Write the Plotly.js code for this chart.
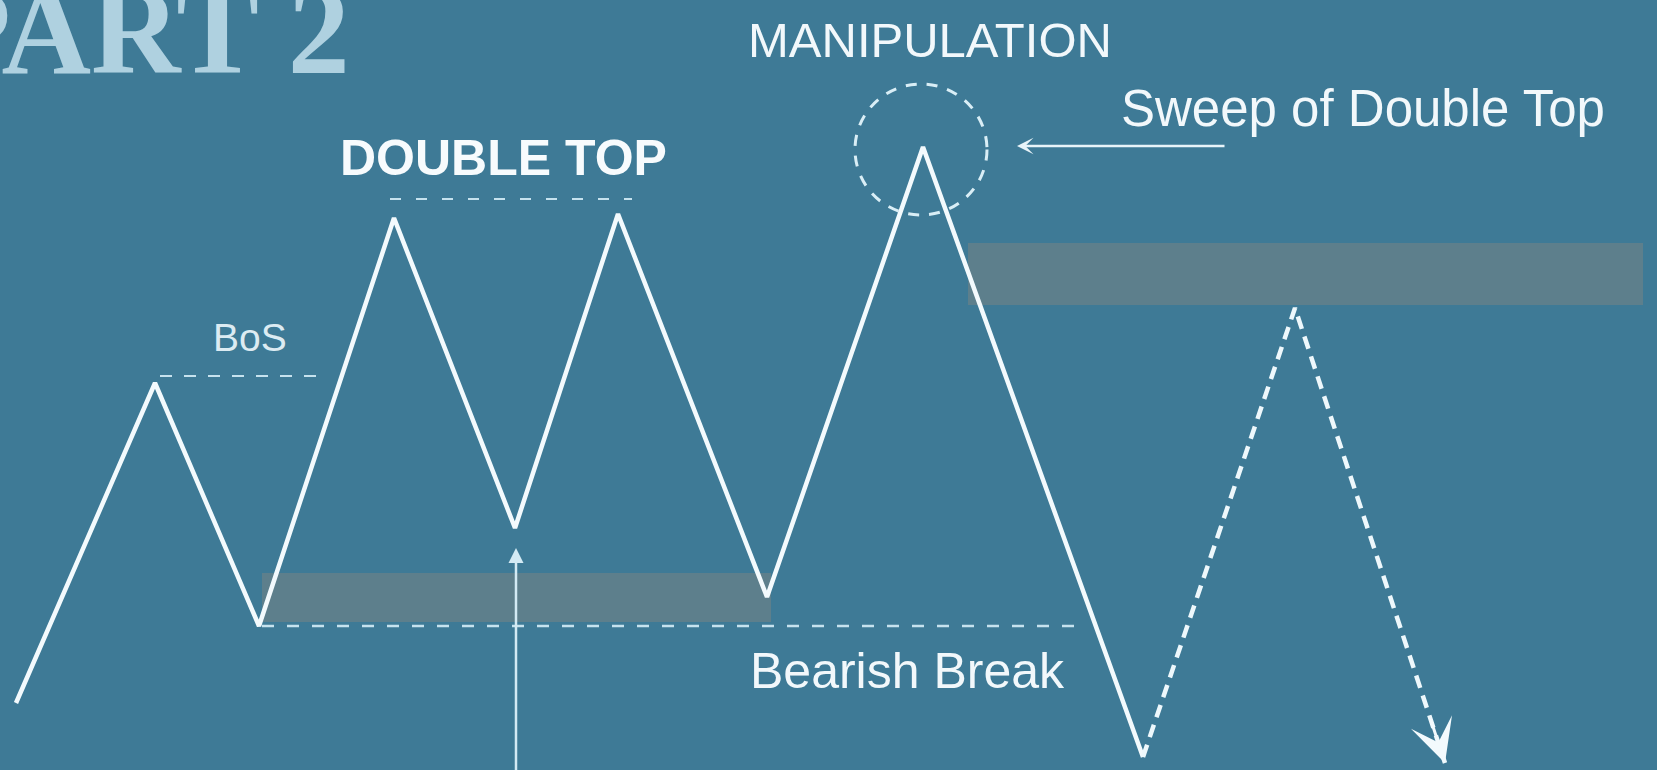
<!DOCTYPE html>
<html>
<head>
<meta charset="utf-8">
<script src="https://cdn.plot.ly/plotly-3.0.1.min.js"></script>
<style>
html,body{margin:0;padding:0;background:#3e7a96;overflow:hidden}
#chart{width:1657px;height:770px}
</style>
</head>
<body>
<div id="chart"></div>
<script>
// ---- price path (x = time position, y = price level) ----
const swingX = [16, 155, 259, 394, 515, 618, 767, 923, 1143];
const swingY = [67, 387, 144, 552, 242, 556, 173, 623, 13];

// ---- projected move after the sweep ----
const projX = [1143, 1295, 1445];
const projY = [13, 462, 7];

// ---- reference levels ----
const bosLevel = [394, 394];
const bosSpan = [160, 317];
const doubleTopLevel = [571, 571];
const doubleTopSpan = [390, 632];
const breakLevel = [144, 144];
const breakSpan = [262, 1078];

// ---- zones ----
const demandZoneX = [262, 771];
const demandZoneY = [148, 197];
const supplyZoneX = [968, 1643];
const supplyZoneY = [465, 527];

// ---- sweep circle (around the manipulation high) ----
const sweepCircleX = [855, 987];
const sweepCircleY = [555, 686];

// ---- labels ----
const labelTexts = ["PART 2", "MANIPULATION", "Sweep of Double Top", "DOUBLE TOP", "BoS", "Bearish Break"];

const BG = '#3e7a96';
const LINE = '#f3fafd';
const DASHC = '#c6e2ee';

const traces = [
  {
    x: swingX, y: swingY, type: 'scatter', mode: 'lines',
    line: {color: LINE, width: 4.5}, hoverinfo: 'skip', showlegend: false
  },
  {
    x: projX, y: projY, type: 'scatter', mode: 'lines',
    line: {color: '#eef8fc', width: 4.5, dash: '13px,8px'}, hoverinfo: 'skip', showlegend: false
  }
];

const shapes = [
  {type: 'rect', xref: 'x', yref: 'y', x0: demandZoneX[0], x1: demandZoneX[1], y0: demandZoneY[0], y1: demandZoneY[1],
   fillcolor: '#5d7f8c', line: {width: 0}, layer: 'below'},
  {type: 'rect', xref: 'x', yref: 'y', x0: supplyZoneX[0], x1: supplyZoneX[1], y0: supplyZoneY[0], y1: supplyZoneY[1],
   fillcolor: '#5d7f8c', line: {width: 0}, layer: 'below'},
  {type: 'line', xref: 'x', yref: 'y', x0: bosSpan[0], x1: bosSpan[1], y0: bosLevel[0], y1: bosLevel[1],
   line: {color: DASHC, width: 2, dash: '12px,12px'}, layer: 'below'},
  {type: 'line', xref: 'x', yref: 'y', x0: doubleTopSpan[0], x1: doubleTopSpan[1], y0: doubleTopLevel[0], y1: doubleTopLevel[1],
   line: {color: DASHC, width: 2, dash: '11px,15px'}, layer: 'below'},
  {type: 'line', xref: 'x', yref: 'y', x0: breakSpan[0], x1: breakSpan[1], y0: breakLevel[0], y1: breakLevel[1],
   line: {color: DASHC, width: 2.5, dash: '12px,13px'}, layer: 'below'},
  {type: 'circle', xref: 'x', yref: 'y', x0: sweepCircleX[0], x1: sweepCircleX[1], y0: sweepCircleY[0], y1: sweepCircleY[1],
   line: {color: '#d9eef6', width: 3, dash: '11px,10px'}, layer: 'below'}
];

const sans = 'Liberation Sans, Arial, sans-serif';
const n = projX.length;
const annotations = [
  {text: labelTexts[0], x: 352, y: 739, xref: 'x', yref: 'y', xanchor: 'right', yanchor: 'middle', showarrow: false,
   font: {family: 'Liberation Serif, DejaVu Serif, serif', size: 124, color: '#afd1e0', weight: 'bold'}},
  {text: labelTexts[1], x: 930, y: 730, xref: 'x', yref: 'y', xanchor: 'center', yanchor: 'middle', showarrow: false,
   font: {family: sans, size: 49, color: '#f2f8fb'}},
  {text: labelTexts[2], x: 1363, y: 662, xref: 'x', yref: 'y', xanchor: 'center', yanchor: 'middle', showarrow: false,
   font: {family: sans, size: 51, color: '#f2f8fb'}},
  {text: labelTexts[3], x: 503, y: 612, xref: 'x', yref: 'y', xanchor: 'center', yanchor: 'middle', showarrow: false,
   font: {family: sans, size: 50, color: '#f7fbfd', weight: 'bold'}},
  {text: labelTexts[4], x: 250, y: 433, xref: 'x', yref: 'y', xanchor: 'center', yanchor: 'middle', showarrow: false,
   font: {family: sans, size: 39, color: '#dcebf2'}},
  {text: labelTexts[5], x: 907, y: 99, xref: 'x', yref: 'y', xanchor: 'center', yanchor: 'middle', showarrow: false,
   font: {family: sans, size: 50, color: '#f2f8fb'}},
  // arrow pointing at the sweep
  {text: '', x: sweepCircleX[1] + 30, y: swingY[7] + 1, xref: 'x', yref: 'y',
   ax: 1226, ay: swingY[7] + 1, axref: 'x', ayref: 'y', showarrow: true,
   arrowhead: 3, arrowsize: 1.1, arrowwidth: 2.5, arrowcolor: '#e8f4f9'},
  // vertical arrow pointing at the double-top low
  {text: '', x: swingX[4] + 1, y: swingY[4] - 20, xref: 'x', yref: 'y',
   ax: swingX[4] + 1, ay: -10, axref: 'x', ayref: 'y', showarrow: true,
   arrowhead: 2, arrowsize: 1.2, arrowwidth: 2.5, arrowcolor: '#d3eaf4'},
  // head of the projected move
  {text: '', x: projX[n - 1], y: projY[n - 1], xref: 'x', yref: 'y',
   ax: projX[n - 2] + (projX[n - 1] - projX[n - 2]) * 0.9, ay: projY[n - 2] + (projY[n - 1] - projY[n - 2]) * 0.9,
   axref: 'x', ayref: 'y', showarrow: true,
   arrowhead: 3, arrowsize: 2.4, arrowwidth: 3, arrowcolor: '#f3fafd'}
];

const layout = {
  width: 1657, height: 770,
  margin: {l: 0, r: 0, t: 0, b: 0, pad: 0},
  paper_bgcolor: BG, plot_bgcolor: BG,
  xaxis: {range: [0, 1657], visible: false, fixedrange: true},
  yaxis: {range: [0, 770], visible: false, fixedrange: true},
  showlegend: false,
  shapes: shapes,
  annotations: annotations
};

Plotly.newPlot('chart', traces, layout, {staticPlot: true, displayModeBar: false});
</script>
</body>
</html>
